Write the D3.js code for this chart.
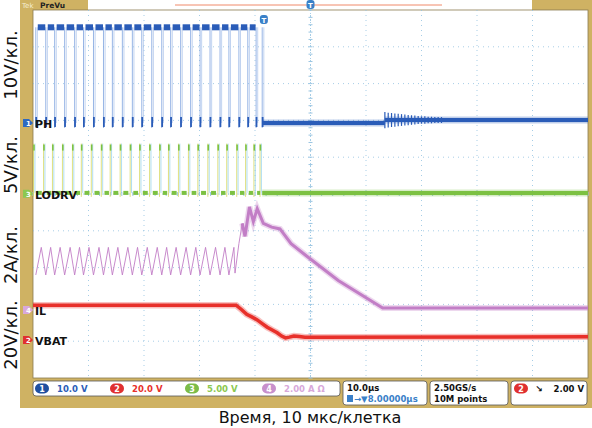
<!DOCTYPE html>
<html>
<head>
<script src="https://d3js.org/d3.v7.min.js"></script>
<style>
  body { margin: 0; background: #fff; }
  text { font-family: "DejaVu Sans", sans-serif; }
</style>
</head>
<body>
<svg id="scope" width="592" height="428"></svg>
<script>
// switching edges (µs), read from PH / LODRV pulses
const pulseT = [-49.5, -47.7, -46.1, -44.3, -42.5, -40.9, -39.1, -37.3, -35.7, -33.9, -32.1, -30.4,
  -28.6, -26.8, -25.2, -23.4, -21.6, -19.9, -18.1, -16.3, -14.7, -12.9, -11.3, -9.8, -8.7];
const phHigh = 26, phLow = 0;          // V
const lodrvHigh = 6.8, lodrvLow = 0.1; // V
const ilSawLow = 1.9, ilSawHigh = 3.4; // A
const ilTail = [[-13.6, 2.0], [-12.9, 3.6], [-12.3, 4.7], [-11.8, 4.0], [-11.0, 5.6], [-10.3, 4.8], [-9.6, 5.5],
  [-8.5, 4.7], [-7.0, 4.5], [-5.5, 4.4], [-3.5, 3.6], [-1.0, 3.0], [5.0, 1.6], [13.0, 0.1], [50, 0.1]];
const vbat = [[-50, 19], [-13.4, 19], [-12.4, 16.5], [-11.5, 14], [-10.5, 12.5], [-9.6, 11], [-8.7, 9],
  [-7.8, 7], [-6.9, 5.5], [-6.0, 4], [-5.2, 2.2], [-4.5, 1.2], [-3.8, 1.6], [-3.0, 2.2], [-2.0, 1.9], [-1.0, 1.6], [50, 1.8]];
const phRingStart = 13.4;
const phRingAmp = [2.2, 2.0, 1.9, 1.8, 1.7, 1.6, 1.5, 1.4, 1.3, 1.2, 1.1, 1.0, 1.0, 0.9, 0.9, 0.8, 0.8, 0.8];
// channels: scale per div, ground position in divs from top
const channels = [
  {name: 'PH', num: '1', perDiv: 10, ground: 3.07, color: '#2a5cb8', badge: '#2f6ac0', axis: '10V/кл.', axisY: 65},
  {name: 'LODRV', num: '3', perDiv: 5, ground: 4.99, color: '#7cc142', badge: '#8cc850', axis: '5V/кл.', axisY: 165},
  {name: 'IL', num: '4', perDiv: 2, ground: 8.15, color: '#c27ec6', badge: '#d8a8da', axis: '2A/кл.', axisY: 255},
  {name: 'VBAT', num: '2', perDiv: 20, ground: 8.97, color: '#e8302a', badge: '#e03030', axis: '20V/кл.', axisY: 335}
];
const statusCh = [['1', '10.0 V', '#2a5cb8', '#1f4fa0'], ['2', '20.0 V', '#e8302a', '#e03030'],
  ['3', '5.00 V', '#8cc850', '#7cbc48'], ['4', '2.00 A Ω', '#d8a8da', '#c890cc']];

const svg = d3.select('#scope');
const tan = '#cfb263';
const L = 33, R = 588, T = 10, B = 378;
const x = d3.scaleLinear().domain([-50, 50]).range([L, R]);
const div = d3.scaleLinear().domain([0, 10]).range([T, B]);
const yOf = (ch, v) => div(ch.ground - v / ch.perDiv);

// frame
svg.append('rect').attr('x', 20).attr('y', 0).attr('width', 13).attr('height', 408).attr('fill', tan);
svg.append('rect').attr('x', 20).attr('y', 378).attr('width', 572).attr('height', 30).attr('fill', tan);
svg.append('rect').attr('x', 588).attr('y', 0).attr('width', 4).attr('height', 408).attr('fill', tan);
svg.append('rect').attr('x', 20).attr('y', 0).attr('width', 68).attr('height', 10).attr('fill', tan);
svg.append('rect').attr('x', 532).attr('y', 0).attr('width', 60).attr('height', 10).attr('fill', tan);
svg.append('text').attr('x', 22).attr('y', 8).attr('font-size', 7).attr('fill', '#f4ecd0').text('Tek');
svg.append('text').attr('x', 40).attr('y', 8).attr('font-size', 7.5).attr('font-weight', 'bold').attr('fill', '#222').text('PreVu');
svg.append('line').attr('x1', 175).attr('x2', 442).attr('y1', 5).attr('y2', 5).attr('stroke', '#f08a6a').attr('stroke-width', 1);
svg.append('rect').attr('x', L).attr('y', T).attr('width', R - L).attr('height', B - T)
  .attr('fill', '#fff').attr('stroke', '#8a7a50').attr('stroke-width', 0.8);

// grid
const g = svg.append('g');
g.selectAll('.vg').data(d3.range(-40, 50, 10)).join('line')
  .attr('x1', d => x(d)).attr('x2', d => x(d)).attr('y1', T).attr('y2', B)
  .attr('stroke', '#8fc0e0').attr('stroke-width', 0.8).attr('stroke-dasharray', '1,4');
g.selectAll('.hg').data(d3.range(1, 10)).join('line')
  .attr('x1', L).attr('x2', R).attr('y1', d => div(d)).attr('y2', d => div(d))
  .attr('stroke', '#8fc0e0').attr('stroke-width', 0.8).attr('stroke-dasharray', '1,4');
g.append('line').attr('x1', x(0)).attr('x2', x(0)).attr('y1', T).attr('y2', B).attr('stroke', '#8fc0e0')
  .attr('stroke-width', 0.8).attr('stroke-dasharray', '1,2');
g.append('line').attr('x1', L).attr('x2', R).attr('y1', div(5)).attr('y2', div(5)).attr('stroke', '#8fc0e0')
  .attr('stroke-width', 0.8).attr('stroke-dasharray', '1,2');
g.selectAll('.tx').data(d3.range(-50, 50.1, 2)).join('line')
  .attr('x1', d => x(d)).attr('x2', d => x(d)).attr('y1', div(5) - 2).attr('y2', div(5) + 2).attr('stroke', '#9cc6e2');
g.selectAll('.ty').data(d3.range(0, 10.01, 0.2)).join('line')
  .attr('x1', x(0) - 2).attr('x2', x(0) + 2).attr('y1', d => div(d)).attr('y2', d => div(d)).attr('stroke', '#9cc6e2');

const line = d3.line().x(d => x(d[0])).y(d => d[1]);
const trace = (pts, color, w, glow) => {
  svg.append('path').attr('d', line(pts)).attr('fill', 'none').attr('stroke', color)
    .attr('stroke-width', w + 3).attr('stroke-opacity', glow);
  svg.append('path').attr('d', line(pts)).attr('fill', 'none').attr('stroke', color).attr('stroke-width', w);
};
const [ph, lo, il, vb] = channels;

// PH: thin switching edges, thick high/low levels
svg.append('g').selectAll('line').data(pulseT).join('line')
  .attr('x1', d => x(d)).attr('x2', d => x(d)).attr('y1', yOf(ph, phHigh)).attr('y2', yOf(ph, phLow) + 5)
  .attr('stroke', '#7fa3e0').attr('stroke-width', 0.8);
svg.append('g').selectAll('line').data(pulseT).join('line')
  .attr('x1', d => x(d) + 1.6).attr('x2', d => x(d) + 1.6).attr('y1', yOf(ph, phHigh)).attr('y2', yOf(ph, phLow))
  .attr('stroke', '#a6c0ea').attr('stroke-width', 0.7);
svg.append('g').selectAll('rect').data(pulseT.slice(0, -2)).join('rect')
  .attr('x', d => x(d) + 2).attr('width', (d, i) => x(pulseT[i + 1]) - x(d) - 2.5)
  .attr('y', yOf(ph, phHigh) - 3).attr('height', 6).attr('fill', ph.color);
svg.append('g').selectAll('rect').data(pulseT).join('rect')
  .attr('x', d => x(d) - 0.5).attr('width', 1.8)
  .attr('y', yOf(ph, phLow) - 6).attr('height', 10).attr('fill', ph.color);
trace([[-8.7, 0], [phRingStart, 0]].map(d => [d[0], yOf(ph, d[1])]), ph.color, 4, 0.3);
trace([[phRingStart, 0.8], [50, 0.8]].map(d => [d[0], yOf(ph, d[1])]), ph.color, 4, 0.3);
svg.append('g').selectAll('line').data(phRingAmp).join('line')
  .attr('x1', (d, i) => x(phRingStart + i * 0.6)).attr('x2', (d, i) => x(phRingStart + i * 0.6))
  .attr('y1', d => yOf(ph, 0.8 + d)).attr('y2', d => yOf(ph, 0.8 - d))
  .attr('stroke', ph.color).attr('stroke-width', 1.2);

// LODRV
svg.append('g').selectAll('line').data(pulseT).join('line')
  .attr('x1', d => x(d) - 2.2).attr('x2', d => x(d) - 2.2).attr('y1', yOf(lo, lodrvHigh)).attr('y2', yOf(lo, lodrvLow) + 4)
  .attr('stroke', '#d8d860').attr('stroke-width', 0.8);
svg.append('g').selectAll('line').data(pulseT).join('line')
  .attr('x1', d => x(d) - 0.8).attr('x2', d => x(d) - 0.8).attr('y1', yOf(lo, lodrvHigh)).attr('y2', yOf(lo, lodrvLow))
  .attr('stroke', '#7ac8e8').attr('stroke-width', 0.6);
svg.append('g').selectAll('rect').data(pulseT).join('rect')
  .attr('x', d => x(d) - 2.6).attr('width', 1.6).attr('y', yOf(lo, lodrvHigh) + 1).attr('height', 6).attr('fill', lo.color);
svg.append('g').selectAll('rect').data(pulseT.slice(0, -1)).join('rect')
  .attr('x', d => x(d) + 1).attr('width', (d, i) => (x(pulseT[i + 1]) - x(d)) * 0.5)
  .attr('y', yOf(lo, lodrvLow) - 2).attr('height', 4).attr('fill', lo.color);
trace([[-8.7, lodrvLow], [50, lodrvLow]].map(d => [d[0], yOf(lo, d[1])]), lo.color, 4, 0.3);

// IL: triangle ripple then tail
const ilPts = [];
pulseT.filter(t => t < -13.6).forEach((t, i, a) => {
  ilPts.push([t, ilSawLow]);
  ilPts.push([t + (i < a.length - 1 ? (a[i + 1] - t) * 0.55 : 0.9), ilSawHigh]);
});
ilTail.forEach(d => ilPts.push(d));
svg.append('path').attr('d', line(ilPts.slice(0, -ilTail.length + 3).map(d => [d[0], yOf(il, d[1])])))
  .attr('fill', 'none').attr('stroke', il.color).attr('stroke-width', 0.9);
trace(ilTail.slice(2).map(d => [d[0], yOf(il, d[1])]), il.color, 3, 0.3);

// VBAT
trace(vbat.map(d => [d[0], yOf(vb, d[1])]), vb.color, 3.5, 0.3);

// trigger markers
const tMark = (cx, cy) => {
  svg.append('rect').attr('x', cx - 4).attr('y', cy - 5).attr('width', 8).attr('height', 9).attr('rx', 3).attr('fill', '#3a80c8');
  svg.append('text').attr('x', cx).attr('y', cy + 2.5).attr('text-anchor', 'middle').attr('font-size', 7)
    .attr('font-weight', 'bold').attr('fill', '#fff').text('T');
};
tMark(x(0), 5);
tMark(x(-8.4), 20);

// channel markers and labels
channels.forEach(ch => {
  const yy = div(ch.ground);
  svg.append('path').attr('d', `M${L - 10},${yy - 4}h6l4,4l-4,4h-6z`).attr('fill', ch.badge);
  svg.append('text').attr('x', L - 7).attr('y', yy + 3).attr('font-size', 7).attr('font-weight', 'bold')
    .attr('fill', '#fff').text(ch.num);
  svg.append('text').attr('x', L + 2).attr('y', yy + 5).attr('font-size', 11).attr('font-weight', 'bold')
    .attr('fill', '#111').text(ch.name);
  svg.append('text').attr('transform', `translate(17,${ch.axisY}) rotate(-90)`).attr('text-anchor', 'middle')
    .attr('font-family', 'Liberation Sans, Arial, sans-serif').attr('font-size', 18).attr('fill', '#111').text(ch.axis);
});

// status bar
const box = (bx, bw, bh) => svg.append('rect').attr('x', bx).attr('y', 381).attr('width', bw).attr('height', bh)
  .attr('rx', 3).attr('fill', '#fff').attr('stroke', '#555').attr('stroke-width', 0.8);
box(33, 307, 15);
const chX = [35, 110, 185, 262];
statusCh.forEach((s, i) => {
  svg.append('rect').attr('x', chX[i]).attr('y', 383.5).attr('width', 14).attr('height', 10).attr('rx', 5).attr('fill', s[3]);
  svg.append('text').attr('x', chX[i] + 7).attr('y', 391.5).attr('text-anchor', 'middle').attr('font-size', 8)
    .attr('font-weight', 'bold').attr('fill', '#fff').text(s[0]);
  svg.append('text').attr('x', chX[i] + 22).attr('y', 392).attr('font-size', 8.5).attr('font-weight', 'bold')
    .attr('fill', s[2]).text(s[1]);
});
box(343, 84, 24);
svg.append('text').attr('x', 347).attr('y', 391).attr('font-size', 8.5).attr('font-weight', 'bold').attr('fill', '#111').text('10.0µs');
svg.append('rect').attr('x', 347).attr('y', 395).attr('width', 6).attr('height', 7).attr('fill', '#3a80c8');
svg.append('text').attr('x', 354).attr('y', 402).attr('font-size', 8.5).attr('font-weight', 'bold').attr('fill', '#3a80c8').text('→▼8.00000µs');
box(430, 78, 24);
svg.append('text').attr('x', 434).attr('y', 391).attr('font-size', 8.5).attr('font-weight', 'bold').attr('fill', '#111').text('2.50GS/s');
svg.append('text').attr('x', 434).attr('y', 402).attr('font-size', 8.5).attr('font-weight', 'bold').attr('fill', '#111').text('10M points');
box(511, 76, 24);
svg.append('rect').attr('x', 514).attr('y', 383.5).attr('width', 14).attr('height', 10).attr('rx', 5).attr('fill', '#e03030');
svg.append('text').attr('x', 521).attr('y', 391.5).attr('text-anchor', 'middle').attr('font-size', 8).attr('font-weight', 'bold').attr('fill', '#fff').text('2');
svg.append('text').attr('x', 535).attr('y', 392).attr('font-size', 9).attr('font-weight', 'bold').attr('fill', '#111').text('↘');
svg.append('text').attr('x', 584).attr('y', 392).attr('text-anchor', 'end').attr('font-size', 8.5).attr('font-weight', 'bold').attr('fill', '#111').text('2.00 V');

svg.append('text').attr('x', 310).attr('y', 423).attr('text-anchor', 'middle')
  .attr('font-family', 'Liberation Sans, Arial, sans-serif').attr('font-size', 16).attr('fill', '#111').text('Время, 10 мкс/клетка');
</script>
</body>
</html>
